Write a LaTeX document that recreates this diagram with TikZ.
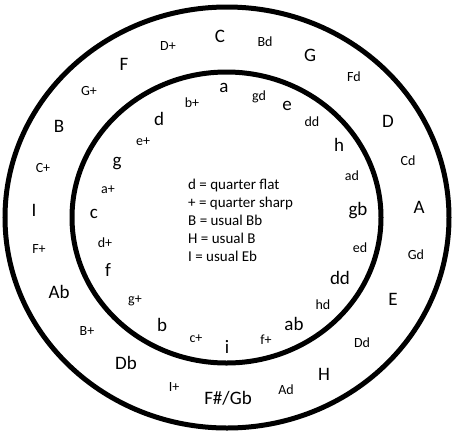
\documentclass[tikz,border=0pt]{standalone}
\usepackage{fontspec}
\setmainfont{Carlito}
\begin{document}
\begin{tikzpicture}[x=1pt,y=-1pt,
  ring/.style={line width=5pt},
  big/.style={font=\fontsize{19}{21}\selectfont, inner sep=0pt},
  small/.style={font=\fontsize{14}{16}\selectfont, inner sep=0pt},
  legend/.style={font=\fontsize{15}{18}\selectfont, inner sep=0pt, anchor=base west}]
\useasboundingbox (0,0) rectangle (455,432);
\draw[ring] (227,217.5) ellipse [x radius=222, y radius=210.5];
\draw[ring] (226.5,217.5) ellipse [x radius=154.5, y radius=145.5];
% outer ring
\node[big] (C) at (220,36) {C};
\node[small] (Dp) at (168,46) {D+};
\node[big] (F) at (124,64) {F};
\node[small] (Gp) at (89,91) {G+};
\node[big] (B) at (59,126) {B};
\node[small] (Cp) at (43,168) {C+};
\node[big] (I) at (34,210) {I};
\node[small] (Fp) at (39,249) {F+};
\node[big] (Ab) at (59,292) {Ab};
\node[small] (Bp) at (87,331) {B+};
\node[big] (Db) at (126,363) {Db};
\node[small] (Ip) at (174,387) {I+};
\node[big] (FsGb) at (228,398) {F\#/Gb};
\node[small] (Ad) at (286,390) {Ad};
\node[big] (H) at (324,374) {H};
\node[small] (Dd) at (362,343) {Dd};
\node[big] (E) at (393,299) {E};
\node[small] (Gd) at (416,255) {Gd};
\node[big] (A) at (419,207) {A};
\node[small] (Cd) at (408,161) {Cd};
\node[big] (D) at (388,121) {D};
\node[small] (Fd) at (354,77) {Fd};
\node[big] (G) at (310,55) {G};
\node[small] (Bd) at (265,42) {Bd};
% inner ring
\node[big] (a) at (224,88) {a};
\node[small] (bp) at (192,103) {b+};
\node[big] (d) at (159,119) {d};
\node[small] (ep) at (143,142) {e+};
\node[big] (g) at (117,164) {g};
\node[small] (ap) at (108,190) {a+};
\node[big] (c) at (94,214) {c};
\node[small] (dp) at (105,243) {d+};
\node[big] (f) at (108,270) {f};
\node[small] (gp) at (135,301) {g+};
\node[big] (b) at (162,325) {b};
\node[small] (cp) at (196,339) {c+};
\node[big] (i) at (227,347) {i};
\node[small] (fp) at (266,340) {f+};
\node[big] (ab) at (294,324) {ab};
\node[small] (hd) at (323,305) {hd};
\node[big] (ddb) at (340,278) {dd};
\node[small] (ed) at (360,248) {ed};
\node[big] (gb) at (358,211) {gb};
\node[small] (ad) at (352,176) {ad};
\node[big] (h) at (339,145) {h};
\node[small] (dds) at (312,122) {dd};
\node[big] (e) at (287,106) {e};
\node[small] (gd) at (259,97) {gd};
% legend
\node[legend] (key1) at (188,189) {d = quarter flat};
\node[legend] (key2) at (188,207) {+ = quarter sharp};
\node[legend] (key3) at (188,225) {B = usual Bb};
\node[legend] (key4) at (188,243) {H = usual B};
\node[legend] (key5) at (188,261) {I = usual Eb};
\end{tikzpicture}
\end{document}
